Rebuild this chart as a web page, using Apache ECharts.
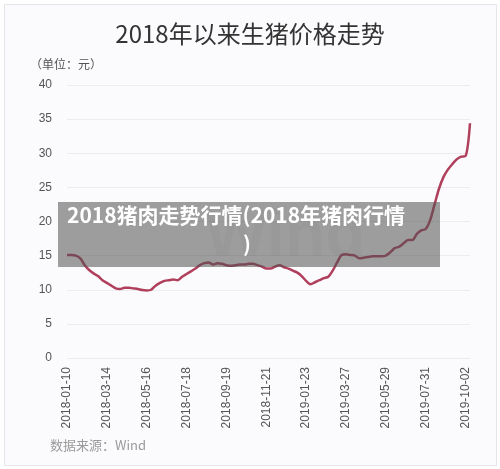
<!DOCTYPE html>
<html>
<head>
<meta charset="utf-8">
<script src="https://cdn.jsdelivr.net/npm/echarts@6/dist/echarts.min.js"></script>
<style>
  html, body { margin: 0; padding: 0; background: #fff; }
  #main { width: 500px; height: 469px; }
</style>
</head>
<body>
<div id="main"></div>
<script>
// 每周日期（2018-01-10 起）
const dates = [
  '2018-01-10', '2018-01-17', '2018-01-24', '2018-01-31', '2018-02-07', '2018-02-14', '2018-02-21', '2018-02-28', '2018-03-07',
  '2018-03-14', '2018-03-21', '2018-03-28', '2018-04-04', '2018-04-11', '2018-04-18', '2018-04-25', '2018-05-02', '2018-05-09',
  '2018-05-16', '2018-05-23', '2018-05-30', '2018-06-06', '2018-06-13', '2018-06-20', '2018-06-27', '2018-07-04', '2018-07-11',
  '2018-07-18', '2018-07-25', '2018-08-01', '2018-08-08', '2018-08-15', '2018-08-22', '2018-08-29', '2018-09-05', '2018-09-12',
  '2018-09-19', '2018-09-26', '2018-10-03', '2018-10-10', '2018-10-17', '2018-10-24', '2018-10-31', '2018-11-07', '2018-11-14',
  '2018-11-21', '2018-11-28', '2018-12-05', '2018-12-12', '2018-12-19', '2018-12-26', '2019-01-02', '2019-01-09', '2019-01-16',
  '2019-01-23', '2019-01-30', '2019-02-06', '2019-02-13', '2019-02-20', '2019-02-27', '2019-03-06', '2019-03-13', '2019-03-20',
  '2019-03-27', '2019-04-03', '2019-04-10', '2019-04-17', '2019-04-24', '2019-05-01', '2019-05-08', '2019-05-15', '2019-05-22',
  '2019-05-29', '2019-06-05', '2019-06-12', '2019-06-19', '2019-06-26', '2019-07-03', '2019-07-10', '2019-07-17', '2019-07-24',
  '2019-07-31', '2019-08-07', '2019-08-14', '2019-08-21', '2019-08-28', '2019-09-04', '2019-09-11', '2019-09-18', '2019-09-25',
  '2019-10-02', '2019-10-09'
]

// 生猪价格（元）
const prices = [
  15.1, 15.1, 15.0, 14.6, 13.6, 12.9, 12.4, 12.0, 11.4,
  11.0, 10.6, 10.2, 10.1, 10.3, 10.3, 10.2, 10.1, 9.95,
  9.9, 10.0, 10.6, 11.0, 11.3, 11.4, 11.5, 11.4, 11.9,
  12.3, 12.7, 13.1, 13.6, 13.9, 14.0, 13.7, 13.9, 13.8,
  13.6, 13.5, 13.6, 13.7, 13.7, 13.8, 13.8, 13.6, 13.4,
  13.1, 13.1, 13.4, 13.6, 13.3, 13.1, 12.8, 12.5, 12.0,
  11.3, 10.8, 11.1, 11.4, 11.7, 11.9, 12.8, 14.0, 15.1,
  15.2, 15.1, 15.0, 14.6, 14.7, 14.8, 14.9, 14.9, 14.9,
  15.0, 15.5, 16.1, 16.3, 16.8, 17.3, 17.3, 18.2, 18.7,
  18.9, 20.2, 22.5, 24.8, 26.5, 27.6, 28.4, 29.1, 29.5,
  29.6, 34.4
]

const yTicks = [0, 5, 10, 15, 20, 25, 30, 35, 40]

const titleText = '2018年以来生猪价格走势'
const unitText = '（单位：元）'
const sourceText = '数据来源：Wind'
const captionLine1 = '2018猪肉走势行情(2018年猪肉行情'
const captionLine2 = ')'

const cjk = '"Noto Sans CJK SC", "Liberation Sans", sans-serif'

const myChart = echarts.init(document.getElementById('main'), null, { renderer: 'canvas' })

const option = {
  backgroundColor: '#ffffff',
  animation: false,
  grid: {
    left: 67,
    right: 30,
    top: 85,
    bottom: 111
  },
  xAxis: {
    type: 'category',
    data: dates,
    boundaryGap: false,
    axisLine: { show: false },
    axisTick: { show: false },
    axisLabel: {
      interval: 8,
      rotate: 90,
      margin: 9,
      color: '#555',
      fontSize: 12,
      fontFamily: '"Liberation Sans", Arial, sans-serif'
    },
    splitLine: { show: false }
  },
  yAxis: {
    type: 'value',
    min: yTicks[0],
    max: yTicks[yTicks.length - 1],
    interval: 5,
    axisLine: { show: false },
    axisTick: { show: false },
    axisLabel: {
      margin: 15,
      color: '#555',
      fontSize: 12,
      fontFamily: '"Liberation Sans", Arial, sans-serif'
    },
    splitLine: { lineStyle: { color: '#ececf0', width: 1 } }
  },
  series: [
    {
      name: '生猪价格',
      type: 'line',
      data: prices,
      symbol: 'none',
      smooth: 0.3,
      z: 2,
      lineStyle: { color: '#b03f5c', width: 2.5 }
    }
  ],
  graphic: [
    // 外框
    {
      type: 'rect',
      left: 4, top: 4, z: -10,
      shape: { width: 492, height: 461 },
      style: { fill: '#fbfbfd', stroke: '#e6e6ea', lineWidth: 1 }
    },
    // 水印
    {
      type: 'text',
      left: 205, top: 205, z: 1,
      style: { text: 'Wind', fill: 'rgba(0,0,0,0.035)', font: 'bold 66px "Liberation Sans", Arial, sans-serif' }
    },
    {
      type: 'text',
      left: 'center', top: 22, z: 5,
      style: { text: titleText, fill: '#333', font: '24px ' + cjk }
    },
    {
      type: 'text',
      left: 30, top: 58, z: 5,
      style: { text: unitText, fill: '#555', font: '12px ' + cjk }
    },
    {
      type: 'text',
      left: 50, top: 439, z: 5,
      style: { text: sourceText, fill: '#9a9a9a', font: '13px ' + cjk }
    },
    // 半透明标题框
    {
      type: 'rect',
      left: 58, top: 202, z: 20,
      shape: { width: 382, height: 65 },
      style: { fill: 'rgba(80,80,80,0.55)' }
    },
    {
      type: 'text',
      left: 67, top: 205, z: 21,
      style: { text: captionLine1, fill: '#fff', font: 'bold 21px ' + cjk }
    },
    {
      type: 'text',
      left: 243, top: 234, z: 21,
      style: { text: captionLine2, fill: '#fff', font: 'bold 21px ' + cjk }
    }
  ]
}

option && myChart.setOption(option)
</script>
</body>
</html>
